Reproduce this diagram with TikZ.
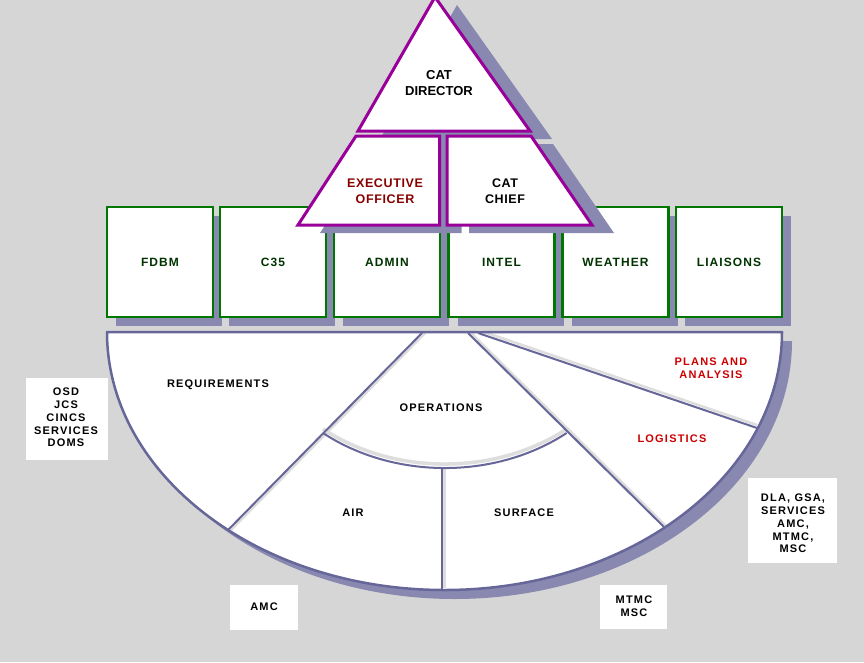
\documentclass[tikz,border=0pt]{standalone}
\usepackage{fontspec}
\setmainfont{Liberation Sans}
\newfontfamily\lblfont{Liberation Sans}[LetterSpace=11]
\newfontfamily\boxfont{Liberation Sans}[LetterSpace=9]
\newfontfamily\trifont{Liberation Sans}[LetterSpace=5]
\usetikzlibrary{shadows}
\definecolor{bgc}{HTML}{D6D6D6}
\definecolor{shadowc}{HTML}{8888B0}
\definecolor{boxgreen}{HTML}{007700}
\definecolor{txtgreen}{HTML}{003300}
\definecolor{purp}{HTML}{990099}
\definecolor{fanblue}{HTML}{666699}
\definecolor{hilitec}{HTML}{DDDDDD}
\definecolor{darkred}{HTML}{880000}
\definecolor{brightred}{HTML}{CC0000}
\tikzset{
 fanlabel/.style={font=\lblfont\bfseries\fontsize{11}{13}\selectfont, text=black, align=center, inner sep=0pt},
 redlabel/.style={fanlabel, text=brightred},
 sidelabel/.style={font=\lblfont\bfseries\fontsize{11}{12.8}\selectfont, text=black, align=center, inner sep=0pt},
 boxlabel/.style={font=\boxfont\bfseries\fontsize{12}{14}\selectfont, text=txtgreen},
 orgbox/.style={draw=boxgreen, line width=2.5pt, fill=white, minimum width=106pt, minimum height=110pt, inner sep=0pt,
   drop shadow={shadow xshift=9pt, shadow yshift=-9pt, fill=shadowc, opacity=1}},
 trishape/.style={draw=purp, line width=3pt, fill=white, line join=miter},
 trishadow/.style={fill=shadowc},
 dirlabel/.style={font=\bfseries\fontsize{13}{16}\selectfont, align=center, inner sep=0pt},
 trilabel/.style={font=\trifont\bfseries\fontsize{12.5}{16}\selectfont, align=center, inner sep=0pt},
 fanline/.style={draw=fanblue, line width=2pt},
 hilite/.style={draw=hilitec, line width=2.5pt},
 whitebox/.style={fill=white},
}
\begin{document}
\begin{tikzpicture}[x=1pt,y=-1pt]
\useasboundingbox (0,0) rectangle (864,662);
\fill[bgc] (0,0) rectangle (864,662);

% side boxes
\fill[whitebox] (26,378) rectangle (108,460);
\fill[whitebox] (230,585) rectangle (298,630);
\fill[whitebox] (600,585) rectangle (667,629);
\fill[whitebox] (748,478) rectangle (837,563);
\node[sidelabel] (lefttxt) at (66,417.5) {OSD\\JCS\\CINCS\\SERVICES\\DOMS};
\node[sidelabel] (amctxt) at (264,607) {AMC};
\node[sidelabel] (mtmctxt) at (634,606.5) {MTMC\\MSC};
\node[sidelabel] (righttxt) at (793,523.5) {DLA, GSA,\\SERVICES\\AMC,\\MTMC,\\MSC};

% fan shadow
\begin{scope}[shift={(10,9)}]
\fill[shadowc] (107,332) -- (782,332) arc[start angle=0,end angle=180,x radius=337.5,y radius=258] -- cycle;
\end{scope}
% fan
\fill[white] (107,332) -- (782,332) arc[start angle=0,end angle=180,x radius=337.5,y radius=258] -- cycle;
% highlights
\draw[hilite] (425,333) -- (231,530);
\draw[hilite] (471,333) -- (667,527);
\draw[hilite] (478,330) -- (757,425);
\draw[hilite] (444.5,468) -- (444.5,588);
\draw[hilitec, line width=3.5pt] (323,429) arc[start angle=128.9,end angle=51.1,x radius=194,y radius=158];
% division lines
\draw[fanline] (422,333) -- (228,530);
\draw[fanline] (468,333) -- (664,527);
\draw[fanline] (478,333) -- (757,428);
\draw[fanline] (442,468) -- (442,590);
\draw[fanline] (323,433) arc[start angle=128.9,end angle=51.1,x radius=194,y radius=158];
\draw[fanblue, line width=2.5pt, line join=round] (107,332) -- (782,332) arc[start angle=0,end angle=180,x radius=337.5,y radius=258] -- cycle;

\node[fanlabel] (req) at (218,385) {REQUIREMENTS};
\node[fanlabel] (ops) at (441,408) {OPERATIONS};
\node[fanlabel] (air) at (353,513) {AIR};
\node[fanlabel] (surf) at (524,513) {SURFACE};
\node[redlabel] (log) at (672,439) {LOGISTICS};
\node[redlabel] (plans) at (711,368.5) {PLANS AND\\ANALYSIS};

% staff boxes
\node[orgbox, boxlabel] (fdbm) at (160,262) {FDBM};
\node[orgbox, boxlabel] (c35) at (273,262) {C35};
\node[orgbox, boxlabel] (admin) at (387,262) {ADMIN};
\node[orgbox, boxlabel] (intel) at (501.5,262) {INTEL};
\node[orgbox, boxlabel] (weather) at (615.5,262) {WEATHER};
\node[orgbox, boxlabel] (liaisons) at (729,262) {LIAISONS};

% triangle shadows
\begin{scope}[shift={(22,8)}]
\fill[trishadow] (435,-3) -- (530,131) -- (358,131) -- cycle;
\fill[trishadow] (356,136) -- (439.5,136) -- (439.5,225) -- (298,225) -- cycle;
\fill[trishadow] (447,136) -- (531,136) -- (592,225) -- (447,225) -- cycle;
\end{scope}
\fill[shadowc] (439,131) rectangle (447,232);
% triangles
\draw[trishape] (435,-3) -- (530,131) -- (358,131) -- cycle;
\draw[trishape] (356,136) -- (439.5,136) -- (439.5,225) -- (298,225) -- cycle;
\draw[trishape] (447,136) -- (531,136) -- (592,225) -- (447,225) -- cycle;

\node[dirlabel] (dir) at (439,83) {CAT\\DIRECTOR};
\node[trilabel, text=darkred] (exec) at (385,191) {EXECUTIVE\\OFFICER};
\node[trilabel] (chief) at (505,191) {CAT\\CHIEF};
\end{tikzpicture}
\end{document}
